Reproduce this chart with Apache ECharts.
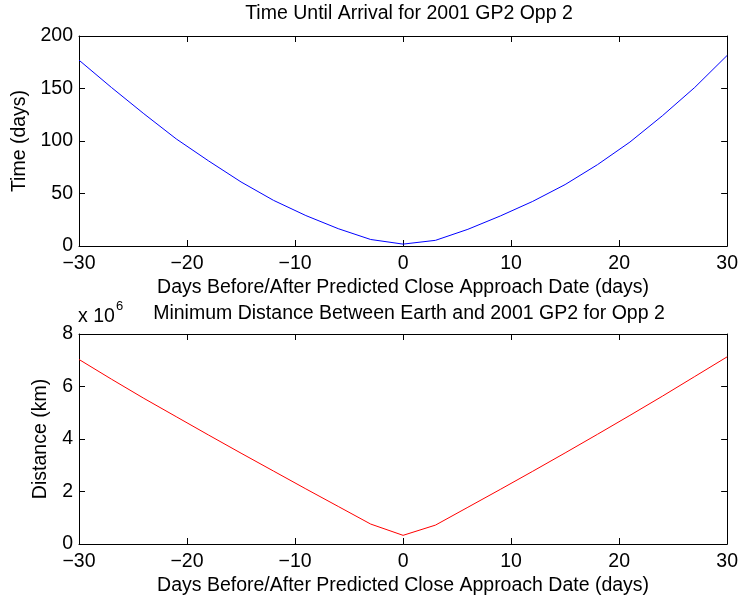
<!DOCTYPE html>
<html>
<head>
<meta charset="utf-8">
<script src="https://cdn.jsdelivr.net/npm/echarts@6/dist/echarts.min.js"></script>
<style>
html,body{margin:0;padding:0;background:#fff;}
#chart{width:741px;height:601px;}
</style>
</head>
<body>
<div id="chart"></div>
<script>
// Days relative to predicted close approach date
var days = [-30,-27,-24,-21,-18,-15,-12,-9,-6,-3,0,3,6,9,12,15,18,21,24,27,30];
// Time until arrival (days)
var timeDays = [177,151,126,102,81,61,43.5,29,16.5,6.2,1.8,5.4,15.9,28.6,42.5,58.5,77.5,99,124,151,181.5];
// Minimum distance (km)
var distKm = [7030000,6280000,5550000,4850000,4150000,3460000,2780000,2100000,1430000,760000,330000,
              720000,1400000,2080000,2770000,3470000,4180000,4900000,5630000,6380000,7130000];
var xTicks = [-30,-20,-10,0,10,20,30];
var timeTicks = [0,50,100,150,200];
var distTicks = [0,2,4,6,8];

var FONT = '"Liberation Sans", Arial, Helvetica, sans-serif';
var FS = 19.5;
function pairs(xs, ys){ return xs.map(function(x,i){ return [x, ys[i]]; }); }
function minus(v){ return String(v).replace('-', '\u2212'); }

var axisLine = {show:true, onZero:false, lineStyle:{color:'#000', width:1}};
var tick = {show:true, inside:true, length:6, lineStyle:{color:'#000', width:1}};
var lbl = {color:'#000', fontFamily:FONT, fontSize:FS};

function xAx(grid, pos, main){
  return {
    type:'value', gridIndex:grid, position:pos, min:xTicks[0], max:xTicks[xTicks.length-1], interval:10,
    axisLine:axisLine, axisTick:tick, splitLine:{show:false},
    axisLabel: main ? Object.assign({margin:8, formatter:minus}, lbl) : {show:false},
    name: main ? 'Days Before/After Predicted Close Approach Date (days)' : '',
    nameLocation:'middle', nameGap:32, nameTextStyle:lbl
  };
}
function yAx(grid, pos, main, max, interval, name, gap, fmt){
  return {
    type:'value', gridIndex:grid, position:pos, min:0, max:max, interval:interval,
    axisLine:axisLine, axisTick:tick, splitLine:{show:false},
    axisLabel: main ? Object.assign({margin:6, formatter:fmt}, lbl) : {show:false},
    name: main ? name : '', nameLocation:'middle', nameGap:gap, nameRotate:90, nameTextStyle:lbl
  };
}

var chart = echarts.init(document.getElementById('chart'), null, {renderer:'canvas'});
chart.setOption({
  animation:false,
  backgroundColor:'#fff',
  title:[
    {text:'Time Until Arrival for 2001 GP2 Opp 2', left:404, top:-1, textAlign:'center',
     textStyle:{color:'#000', fontFamily:FONT, fontSize:FS, fontWeight:'normal'}},
    {text:'Minimum Distance Between Earth and 2001 GP2 for Opp 2', left:404, top:299, textAlign:'center',
     textStyle:{color:'#000', fontFamily:FONT, fontSize:FS, fontWeight:'normal'}}
  ],
  graphic:[
    {type:'text', left:78, top:307, style:{text:'x 10', fill:'#000', font:'19.5px ' + FONT}},
    {type:'text', left:116, top:300, style:{text:'6', fill:'#000', font:'13px ' + FONT}}
  ],
  grid:[
    {left:79, top:36, width:650, height:210},
    {left:79, top:334, width:650, height:210}
  ],
  xAxis:[ xAx(0,'bottom',true), xAx(0,'top',false), xAx(1,'bottom',true), xAx(1,'top',false) ],
  yAxis:[
    yAx(0,'left',true,200,50,'Time (days)',49,function(v){return String(v);}),
    yAx(0,'right',false,200,50,'',0),
    yAx(1,'left',true,8000000,2000000,'Distance (km)',28,function(v){return String(v/1e6);}),
    yAx(1,'right',false,8000000,2000000,'',0)
  ],
  series:[
    {type:'line', xAxisIndex:0, yAxisIndex:0, data:pairs(days,timeDays), showSymbol:false,
     lineStyle:{color:'#0000ff', width:1}, itemStyle:{color:'#0000ff'}},
    {type:'line', xAxisIndex:2, yAxisIndex:2, data:pairs(days,distKm), showSymbol:false,
     lineStyle:{color:'#ff0000', width:1}, itemStyle:{color:'#ff0000'}}
  ]
});
</script>
</body>
</html>
